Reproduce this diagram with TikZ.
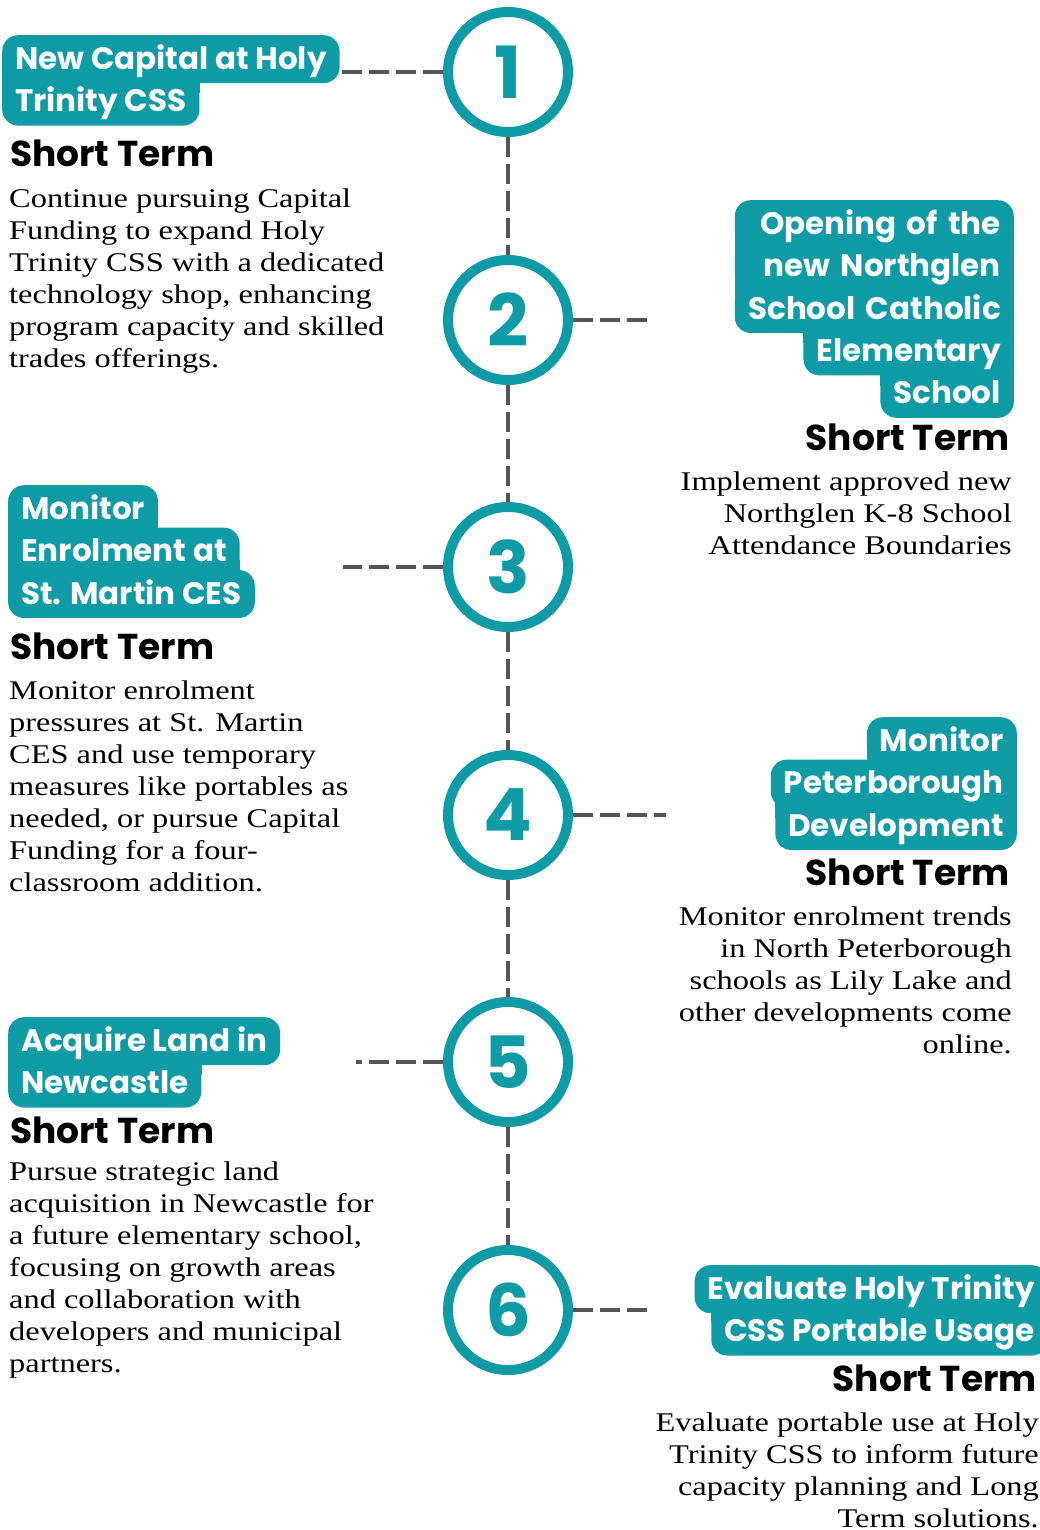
\documentclass[tikz,border=0pt]{standalone}
\usepackage{fontspec}
\setmainfont{Liberation Serif}[FakeStretch=1.2]
\newfontfamily\headfont{Poppins}
\usetikzlibrary{positioning,calc,backgrounds}
\definecolor{tealmain}{HTML}{0E9BA5}
\definecolor{dashgray}{HTML}{555555}
\newcommand\joinleft[3]{\fill[tealmain] (#1.south west) ++(0,-16) rectangle ($(#2.north -| #3.east)+(0,16)$);}
\newcommand\joinright[3]{\fill[tealmain] (#1.south east) ++(0,-16) rectangle ($(#2.north -| #3.west)+(0,16)$);}

\begin{document}
\begin{tikzpicture}[x=1pt,y=-1pt,
stage/.style={circle,draw=tealmain,line width=10pt,fill=white,minimum size=120pt,inner sep=0pt,text=tealmain,font=\headfont\bfseries\fontsize{72}{72}\selectfont},
tagl/.style={fill=tealmain,text=white,rounded corners=16pt,inner xsep=13pt,inner ysep=4pt,text height=30pt,text depth=10pt,font=\headfont\bfseries\fontsize{31}{31}\selectfont},
wide/.style={text width=253pt,align=right},
term/.style={inner sep=0pt,font=\headfont\bfseries\fontsize{36}{36}\selectfont},
desc/.style={inner sep=0pt,font=\fontsize{27}{32}\selectfont},
link/.style={draw=dashgray,line width=4pt,dash pattern=on 20pt off 7pt}]
\useasboundingbox (0,0) rectangle (1039,1530);
\begin{pgfonlayer}{background}
\fill[white] (0,0) rectangle (1039,1530);
\end{pgfonlayer}

\foreach \i/\y in {1/72,2/320,3/567,4/815,5/1062,6/1310}
  \node[stage] (c\i) at (508,\y) {\i};
\foreach \i/\j in {1/2,2/3,3/4,4/5,5/6}
  \draw[link] (c\i.south) -- (c\j.north);

\coordinate (e1) at (340,72);
\coordinate (e2) at (653,320);
\coordinate (e3) at (343,567);
\coordinate (e4) at (666,815);
\coordinate (e5) at (356,1062);
\coordinate (e6) at (647,1310);
\foreach \i in {1,...,6}
  \draw[link] (c\i) -- (e\i);

\node[tagl,anchor=north west] (t1a) at (2,35) {New Capital at Holy};
\node[tagl,below right=-6pt and 0pt of t1a.south west] (t1b) {Trinity CSS};
\node[term,anchor=base west] (s1) at (10,167) {Short Term};
\node[desc,anchor=base west,align=left] (d1) at (9,367) {Continue pursuing Capital\\Funding to expand Holy\\Trinity CSS with a dedicated\\technology shop, enhancing\\program capacity and skilled\\trades offerings.};

\node[tagl,wide,anchor=north east] (t2a) at (1014,200) {Opening of the};
\node[tagl,wide,below left=-6pt and 0pt of t2a.south east] (t2b) {new Northglen};
\node[tagl,wide,below left=-6pt and 0pt of t2b.south east] (t2c) {School Catholic};
\node[tagl,below left=-6pt and 0pt of t2c.south east] (t2d) {Elementary};
\node[tagl,below left=-6pt and 0pt of t2d.south east] (t2e) {School};
\node[term,anchor=base east] (s2) at (1010,450) {Short Term};
\node[desc,anchor=base east,align=right] (d2) at (1012,554) {Implement approved new\\Northglen K-8 School\\Attendance Boundaries};

\node[tagl,anchor=north west] (t3a) at (8,485) {Monitor};
\node[tagl,below right=-6pt and 0pt of t3a.south west] (t3b) {Enrolment at};
\node[tagl,below right=-6pt and 0pt of t3b.south west] (t3c) {St. Martin CES};
\node[term,anchor=base west] (s3) at (10,659) {Short Term};
\node[desc,anchor=base west,align=left] (d3) at (9,891) {Monitor enrolment\\pressures at St. Martin\\CES and use temporary\\measures like portables as\\needed, or pursue Capital\\Funding for a four-\\classroom addition.};

\node[tagl,anchor=north east] (t4a) at (1017,717) {Monitor};
\node[tagl,below left=-6pt and 0pt of t4a.south east] (t4b) {Peterborough};
\node[tagl,below left=-6pt and 0pt of t4b.south east] (t4c) {Development};
\node[term,anchor=base east] (s4) at (1010,885) {Short Term};
\node[desc,anchor=base east,align=right] (d4) at (1012,1053) {Monitor enrolment trends\\in North Peterborough\\schools as Lily Lake and\\other developments come\\online.};

\node[tagl,anchor=north west] (t5a) at (8,1017) {Acquire Land in};
\node[tagl,below right=-6pt and 0pt of t5a.south west] (t5b) {Newcastle};
\node[term,anchor=base west] (s5) at (10,1143) {Short Term};
\node[desc,anchor=base west,align=left] (d5) at (9,1372) {Pursue strategic land\\acquisition in Newcastle for\\a future elementary school,\\focusing on growth areas\\and collaboration with\\developers and municipal\\partners.};

\node[tagl,anchor=north east] (t6a) at (1048,1265) {Evaluate Holy Trinity};
\node[tagl,below left=-6pt and 0pt of t6a.south east] (t6b) {CSS Portable Usage};
\node[term,anchor=base east] (s6) at (1037,1391) {Short Term};
\node[desc,anchor=base east,align=right] (d6) at (1039,1527) {Evaluate portable use at Holy\\Trinity CSS to inform future\\capacity planning and Long\\Term solutions.};

\begin{pgfonlayer}{background}
\joinleft{t1a}{t1b}{t1b}
\joinright{t2a}{t2b}{t2b}
\joinright{t2b}{t2c}{t2b}
\joinright{t2c}{t2d}{t2d}
\joinright{t2d}{t2e}{t2e}
\joinleft{t3a}{t3b}{t3a}
\joinleft{t3b}{t3c}{t3b}
\joinright{t4a}{t4b}{t4a}
\joinright{t4b}{t4c}{t4c}
\joinleft{t5a}{t5b}{t5b}
\joinright{t6a}{t6b}{t6b}
\end{pgfonlayer}
\end{tikzpicture}
\end{document}
